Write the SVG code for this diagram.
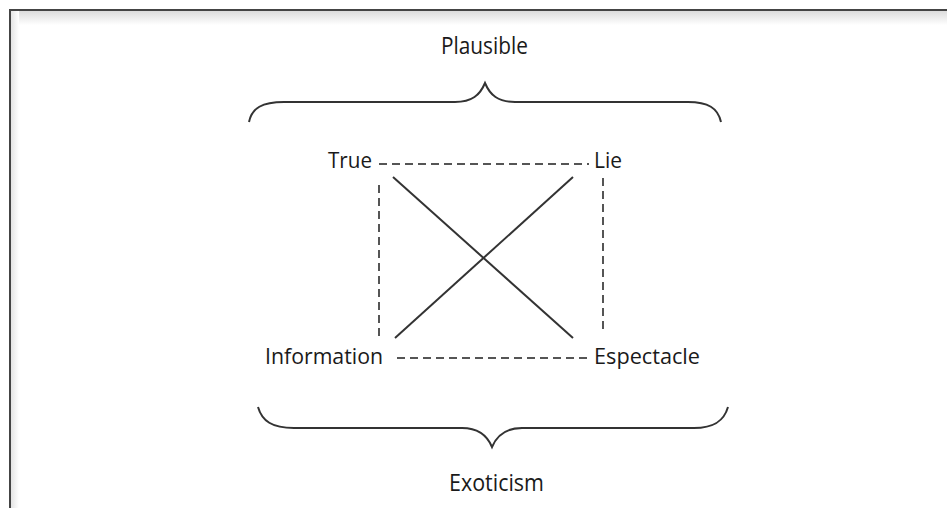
<svg xmlns="http://www.w3.org/2000/svg" width="947" height="508" viewBox="0 0 947 508">
<defs>
<linearGradient id="shTop" x1="0" y1="0" x2="0" y2="1">
<stop offset="0" stop-color="#dcdcdc"/>
<stop offset="1" stop-color="#ffffff"/>
</linearGradient>
<linearGradient id="shLeft" x1="0" y1="0" x2="1" y2="0">
<stop offset="0" stop-color="#e4e4e4"/>
<stop offset="1" stop-color="#ffffff"/>
</linearGradient>
</defs>
<style>
text{font-family:"Open Sans","Liberation Sans",sans-serif;fill:#1a1a1a}
.lbl{font-size:22px}
.big{font-size:23px}
.dash{stroke:#555;stroke-width:2;stroke-dasharray:8 5;fill:none}
.solid{stroke:#333;stroke-width:2;fill:none}
.brace{stroke:#333;stroke-width:2;fill:none}
</style>
<rect width="947" height="508" fill="#ffffff"/>
<g id="frame">
<rect x="11" y="11" width="936" height="14" fill="url(#shTop)"/>
<rect x="11" y="11" width="8" height="497" fill="url(#shLeft)"/>
<path d="M10,508 L10,10 L947,10" fill="none" stroke="#444" stroke-width="2"/>
</g>
<g id="braces">
<path class="brace" d="M249,122 C252,108 262,102 284,102 L455,102 C472,102 480,95 485,83 C490,95 498,102 515,102 L688,102 C708,102 718,108 721,122"/>
<path class="brace" d="M258,407 C262,421 272,428 294,428 L462,428 C478,428 487,435 492,447 C497,435 506,428 522,428 L694,428 C714,428 724,421 728,407"/>
</g>
<g id="plausible"><text class="big" x="441" y="54" textLength="87" lengthAdjust="spacingAndGlyphs">Plausible</text></g>
<g id="exoticism"><text class="big" x="449" y="491" textLength="95" lengthAdjust="spacingAndGlyphs">Exoticism</text></g>
<g id="true"><text class="lbl" x="328" y="168" textLength="44" lengthAdjust="spacingAndGlyphs">True</text></g>
<g id="lie"><text class="lbl" x="594" y="168" textLength="28" lengthAdjust="spacingAndGlyphs">Lie</text></g>
<g id="information"><text class="lbl" x="265" y="364" textLength="118" lengthAdjust="spacingAndGlyphs">Information</text></g>
<g id="espectacle"><text class="lbl" x="594" y="364" textLength="106" lengthAdjust="spacingAndGlyphs">Espectacle</text></g>
<g id="connectors">
<line class="dash" x1="379" y1="164" x2="589" y2="164"/>
<line class="dash" x1="397" y1="358" x2="589" y2="358"/>
<line class="dash" x1="379" y1="185" x2="379" y2="338"/>
<line class="dash" x1="603" y1="178" x2="603" y2="330"/>
<line class="solid" x1="393" y1="177" x2="573" y2="338"/>
<line class="solid" x1="395" y1="338" x2="573" y2="177"/>
</g>
</svg>
